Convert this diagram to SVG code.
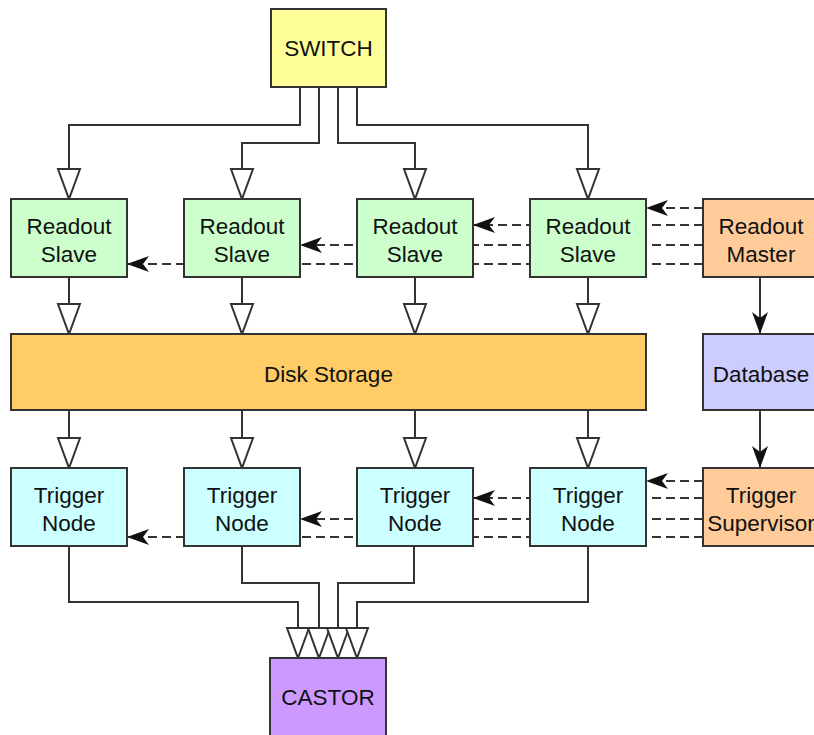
<svg xmlns="http://www.w3.org/2000/svg" width="814" height="735" viewBox="0 0 814 735">
<style>
.box{stroke:#333;stroke-width:2}
.t{font-family:"Liberation Sans",Arial,sans-serif;font-size:22.5px;fill:#111;text-anchor:middle}
.ln{fill:none;stroke:#333;stroke-width:2}
.ds{fill:none;stroke:#333;stroke-width:2;stroke-dasharray:9,5}
</style>
<defs>
<marker id="hollow" viewBox="-2 -2 34 26" refX="30" refY="11" markerWidth="34" markerHeight="26" orient="auto" markerUnits="userSpaceOnUse" overflow="visible">
<path d="M0,0 L30,11 L0,22 Z" fill="#fff" stroke="#333" stroke-width="2" stroke-linejoin="miter"/>
</marker>
<marker id="filled" viewBox="0 0 22 16" refX="22" refY="8" markerWidth="22" markerHeight="16" orient="auto" markerUnits="userSpaceOnUse">
<path d="M0,0 L22,8 L0,16 L6,8 Z" fill="#111"/>
</marker>
</defs>
<g id="connectors">
<path class="ln" d="M300,87 V125 H69 V199" marker-end="url(#hollow)"/>
<path class="ln" d="M319,87 V143 H242 V199" marker-end="url(#hollow)"/>
<path class="ln" d="M338,87 V143 H415 V199" marker-end="url(#hollow)"/>
<path class="ln" d="M357,87 V125 H588 V199" marker-end="url(#hollow)"/>
<path class="ln" d="M69,277 V334" marker-end="url(#hollow)"/>
<path class="ln" d="M242,277 V334" marker-end="url(#hollow)"/>
<path class="ln" d="M415,277 V334" marker-end="url(#hollow)"/>
<path class="ln" d="M588,277 V334" marker-end="url(#hollow)"/>
<path class="ln" d="M69,410 V468" marker-end="url(#hollow)"/>
<path class="ln" d="M242,410 V468" marker-end="url(#hollow)"/>
<path class="ln" d="M415,410 V468" marker-end="url(#hollow)"/>
<path class="ln" d="M588,410 V468" marker-end="url(#hollow)"/>
<path class="ln" d="M69,546 V602 H298 V658" marker-end="url(#hollow)"/>
<path class="ln" d="M242,546 V583 H319 V658" marker-end="url(#hollow)"/>
<path class="ln" d="M414,546 V583 H338 V658" marker-end="url(#hollow)"/>
<path class="ln" d="M588,546 V602 H357 V658" marker-end="url(#hollow)"/>
<path class="ln" d="M760,277 V334" marker-end="url(#filled)"/>
<path class="ln" d="M760,410 V468" marker-end="url(#filled)"/>
<path class="ds" d="M703,208 H646" marker-end="url(#filled)"/>
<path class="ds" d="M703,225 H473" marker-end="url(#filled)"/>
<path class="ds" d="M703,245 H300" marker-end="url(#filled)"/>
<path class="ds" d="M703,264 H127" marker-end="url(#filled)"/>
<path class="ds" d="M703,481 H646" marker-end="url(#filled)"/>
<path class="ds" d="M703,498 H473" marker-end="url(#filled)"/>
<path class="ds" d="M703,519 H300" marker-end="url(#filled)"/>
<path class="ds" d="M703,537 H127" marker-end="url(#filled)"/>
</g>
<g id="switch"><rect class="box" x="271" y="9" width="115" height="78" fill="#ffff99"/><text class="t" x="328.5" y="56">SWITCH</text></g>
<g id="rs1"><rect class="box" x="11" y="199" width="116" height="78" fill="#ccffcc"/><text class="t" x="69" y="234">Readout</text><text class="t" x="69" y="262">Slave</text></g>
<g id="rs2"><rect class="box" x="184" y="199" width="116" height="78" fill="#ccffcc"/><text class="t" x="242" y="234">Readout</text><text class="t" x="242" y="262">Slave</text></g>
<g id="rs3"><rect class="box" x="357" y="199" width="116" height="78" fill="#ccffcc"/><text class="t" x="415" y="234">Readout</text><text class="t" x="415" y="262">Slave</text></g>
<g id="rs4"><rect class="box" x="530" y="199" width="116" height="78" fill="#ccffcc"/><text class="t" x="588" y="234">Readout</text><text class="t" x="588" y="262">Slave</text></g>
<g id="rmaster"><rect class="box" x="703" y="199" width="116" height="78" fill="#ffcc99"/><text class="t" x="761" y="234">Readout</text><text class="t" x="761" y="262">Master</text></g>
<g id="disk"><rect class="box" x="11" y="334" width="635" height="76" fill="#ffcc66"/><text class="t" x="328.5" y="382">Disk Storage</text></g>
<g id="database"><rect class="box" x="703" y="334" width="116" height="76" fill="#ccccff"/><text class="t" x="761" y="382">Database</text></g>
<g id="tn1"><rect class="box" x="11" y="468" width="116" height="78" fill="#ccffff"/><text class="t" x="69" y="503">Trigger</text><text class="t" x="69" y="531">Node</text></g>
<g id="tn2"><rect class="box" x="184" y="468" width="116" height="78" fill="#ccffff"/><text class="t" x="242" y="503">Trigger</text><text class="t" x="242" y="531">Node</text></g>
<g id="tn3"><rect class="box" x="357" y="468" width="116" height="78" fill="#ccffff"/><text class="t" x="415" y="503">Trigger</text><text class="t" x="415" y="531">Node</text></g>
<g id="tn4"><rect class="box" x="530" y="468" width="116" height="78" fill="#ccffff"/><text class="t" x="588" y="503">Trigger</text><text class="t" x="588" y="531">Node</text></g>
<g id="tsup"><rect class="box" x="703" y="468" width="116" height="78" fill="#ffcc99"/><text class="t" x="761" y="503">Trigger</text><text class="t" x="761" y="531">Supervisor</text></g>
<g id="castor"><rect class="box" x="270" y="658" width="116" height="80" fill="#cc99ff"/><text class="t" x="328" y="705">CASTOR</text></g>
</svg>
